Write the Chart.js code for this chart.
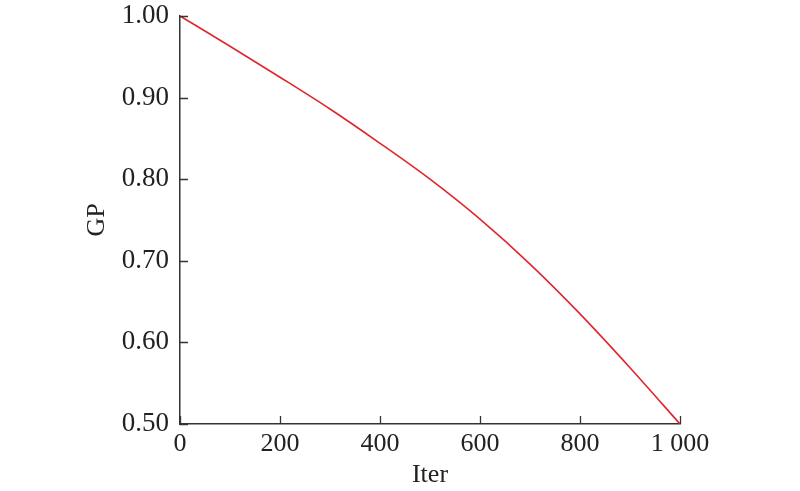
<!DOCTYPE html>
<html>
<head>
<meta charset="utf-8">
<script src="https://cdn.jsdelivr.net/npm/chart.js@4/dist/chart.umd.min.js"></script>
<style>
  html, body { margin: 0; padding: 0; background: #ffffff; }
  #wrap { width: 800px; height: 491px; position: relative; }
</style>
</head>
<body>
<div id="wrap"><canvas id="gpChart"></canvas></div>
<script>
// Iterações (eixo x) e valores de GP
const iterValues = [0, 100, 200, 300, 400, 500, 600, 700, 800, 900, 1000];
const gpValues = [1.000, 0.963, 0.925, 0.886, 0.844, 0.800, 0.751, 0.696, 0.635, 0.569, 0.500];

// Rótulos dos eixos
const xTicks = [0, 200, 400, 600, 800, 1000];
const yTicks = [0.5, 0.6, 0.7, 0.8, 0.9, 1.0];

const points = iterValues.map((x, i) => ({ x: x, y: gpValues[i] }));

const axisColor = '#333333';
const serif = "'Liberation Serif', 'DejaVu Serif', serif";

function formatIter(v) {
  // separador de milhar com espaço, como na figura
  return String(v).replace(/\B(?=(\d{3})+(?!\d))/g, ' ');
}

// Marcas dos eixos voltadas para dentro
const innerTicks = {
  id: 'innerTicks',
  afterDraw(chart) {
    const c = chart.ctx;
    const xs = chart.scales.x;
    const ys = chart.scales.y;
    const area = chart.chartArea;
    c.save();
    c.strokeStyle = axisColor;
    c.lineWidth = 1.3;
    c.beginPath();
    xTicks.forEach(v => {
      const px = Math.round(xs.getPixelForValue(v)) + 0.5;
      c.moveTo(px, area.bottom);
      c.lineTo(px, area.bottom - 8);
    });
    yTicks.forEach(v => {
      const py = Math.round(ys.getPixelForValue(v)) + 0.5;
      c.moveTo(area.left, py);
      c.lineTo(area.left + 8, py);
    });
    c.stroke();
    c.restore();
  }
};

const ctx = document.getElementById('gpChart').getContext('2d');
new Chart(ctx, {
  type: 'line',
  data: {
    datasets: [{
      data: points,
      borderColor: '#e0262b',
      borderWidth: 1.6,
      pointRadius: 0,
      fill: false,
      cubicInterpolationMode: 'monotone'
    }]
  },
  options: {
    responsive: true,
    maintainAspectRatio: false,
    animation: false,
    layout: { padding: { top: 16, right: 120, left: 82, bottom: 0 } },
    plugins: {
      legend: { display: false },
      tooltip: { enabled: false }
    },
    scales: {
      x: {
        type: 'linear',
        min: 0,
        max: 1000,
        afterBuildTicks: (axis) => { axis.ticks = xTicks.map(v => ({ value: v })); },
        afterFit: (axis) => { axis.height = 67; },
        border: { display: true, color: axisColor, width: 1.5 },
        grid: { display: false, drawOnChartArea: false, drawTicks: false },
        ticks: {
          color: '#222222',
          font: { family: serif, size: 26 },
          padding: 5,
          maxRotation: 0,
          callback: (v) => formatIter(v)
        },
        title: {
          display: true,
          text: 'Iter',
          color: '#222222',
          font: { family: serif, size: 26 },
          padding: { top: 0, bottom: 0 }
        }
      },
      y: {
        type: 'linear',
        min: 0.5,
        max: 1.0,
        afterBuildTicks: (axis) => { axis.ticks = yTicks.map(v => ({ value: v })); },
        afterFit: (axis) => {
          axis.width = 98;
          // sem espaço extra para o rótulo do topo
          axis.paddingTop = 0;
          axis.paddingBottom = 0;
        },
        border: { display: true, color: axisColor, width: 1.5 },
        grid: { display: false, drawOnChartArea: false, drawTicks: false },
        ticks: {
          color: '#222222',
          font: { family: serif, size: 27 },
          padding: 11,
          callback: (v) => v.toFixed(2)
        },
        title: {
          display: true,
          text: 'GP',
          color: '#222222',
          font: { family: serif, size: 26 },
          padding: { top: 0, bottom: 0 }
        }
      }
    }
  },
  plugins: [innerTicks]
});
</script>
</body>
</html>
